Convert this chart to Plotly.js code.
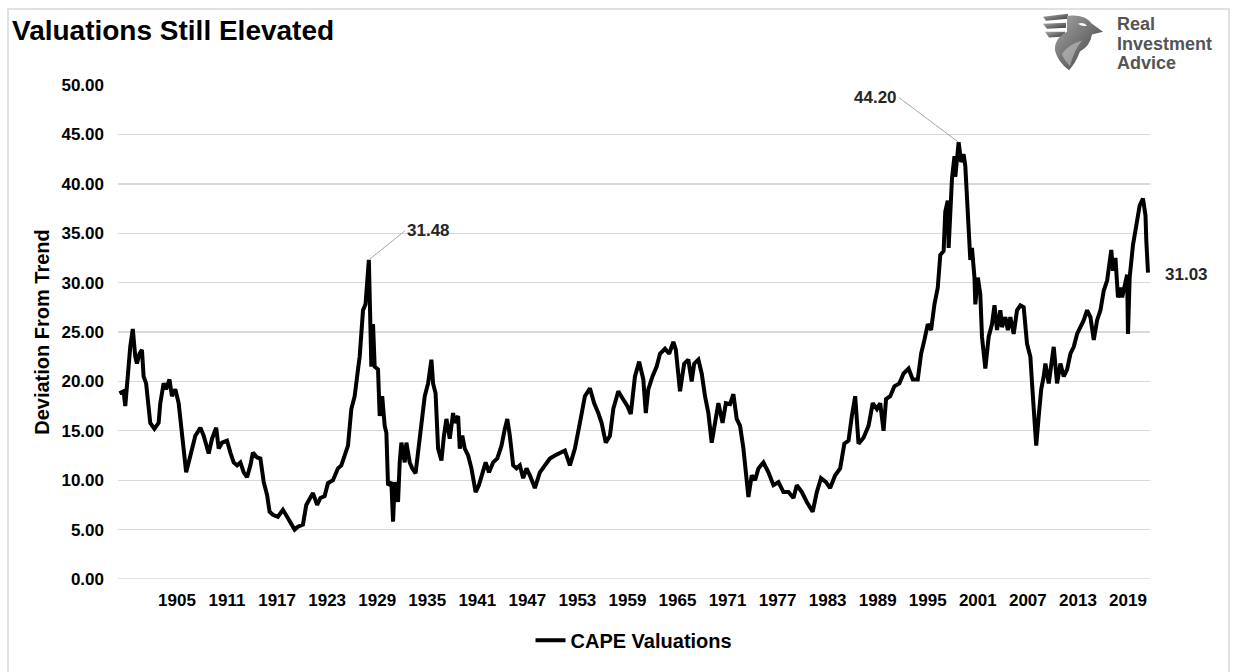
<!DOCTYPE html>
<html>
<head>
<meta charset="utf-8">
<script src="https://cdn.plot.ly/plotly-3.0.1.min.js"></script>
<style>
  html, body { margin: 0; padding: 0; background: #ffffff; }
  #chart { width: 1234px; height: 672px; }
</style>
</head>
<body>
<div id="chart"></div>
<script>
// ---- Data ----
const years = [
  1898.1,1898.6,1898.8,1899.0,1899.4,1899.7,1900.0,1900.2,1900.5,1900.8,
  1901.0,1901.3,1901.6,1901.8,1902.3,1902.8,1903.0,1903.4,1903.7,1904.1,
  1904.4,1904.8,1905.2,1905.6,1905.8,1906.1,1906.4,1906.8,1907.2,1907.8,
  1908.2,1908.8,1909.2,1909.7,1910.0,1910.4,1911.0,1911.4,1911.8,1912.2,
  1912.6,1913.0,1913.4,1913.8,1914.1,1914.6,1915.0,1915.4,1915.8,1916.1,
  1916.5,1917.1,1917.7,1918.2,1918.8,1919.1,1919.5,1920.1,1920.5,1920.9,
  1921.3,1921.8,1922.2,1922.7,1923.1,1923.7,1924.3,1924.7,1925.1,1925.5,
  1925.9,1926.3,1926.7,1926.9,1927.3,1927.6,1928.0,1928.3,1928.5,1928.7,
  1929.1,1929.3,1929.6,1929.9,1930.1,1930.3,1930.7,1930.9,1931.1,1931.5,
  1931.7,1931.9,1932.3,1932.5,1932.9,1933.2,1933.6,1933.9,1934.3,1934.7,
  1935.1,1935.5,1935.7,1936.0,1936.3,1936.7,1937.0,1937.3,1937.7,1938.1,
  1938.3,1938.7,1938.9,1939.2,1939.5,1939.9,1940.3,1940.8,1941.2,1941.6,
  1942.0,1942.4,1942.9,1943.4,1943.9,1944.3,1944.6,1944.9,1945.3,1945.7,
  1946.1,1946.5,1946.9,1947.3,1947.9,1948.5,1949.1,1949.7,1950.3,1950.9,
  1951.5,1952.1,1952.7,1953.3,1953.9,1954.5,1955.0,1955.5,1955.9,1956.4,
  1956.9,1957.3,1957.9,1958.4,1959.0,1959.4,1959.9,1960.4,1960.9,1961.2,
  1961.5,1962.0,1962.5,1962.9,1963.5,1964.0,1964.5,1964.8,1965.3,1965.8,
  1966.3,1966.7,1967.0,1967.5,1967.9,1968.3,1968.7,1969.1,1969.5,1969.9,
  1970.4,1970.8,1971.3,1971.7,1972.1,1972.5,1972.9,1973.2,1973.5,1973.9,
  1974.3,1974.7,1975.3,1975.9,1976.5,1977.1,1977.7,1978.3,1978.9,1979.3,
  1979.9,1980.5,1981.2,1981.7,1982.2,1982.8,1983.3,1983.9,1984.5,1985.0,
  1985.5,1985.9,1986.3,1986.7,1987.3,1987.9,1988.4,1988.9,1989.3,1989.7,
  1990.0,1990.5,1991.0,1991.6,1992.1,1992.7,1993.2,1993.8,1994.2,1994.6,
  1995.0,1995.4,1995.8,1996.2,1996.5,1996.9,1997.1,1997.4,1997.5,1997.9,
  1998.2,1998.3,1998.6,1998.7,1999.0,1999.3,1999.5,1999.9,2000.1,2000.3,
  2000.6,2000.7,2001.0,2001.3,2001.5,2001.9,2002.3,2002.7,2003.0,2003.3,
  2003.7,2003.9,2004.3,2004.6,2004.9,2005.3,2005.7,2006.1,2006.5,2006.9,
  2007.3,2007.5,2007.8,2008.0,2008.3,2008.6,2008.9,2009.1,2009.5,2009.8,
  2010.1,2010.5,2010.9,2011.3,2011.7,2012.1,2012.5,2012.9,2013.3,2013.7,
  2014.1,2014.5,2014.9,2015.3,2015.7,2016.1,2016.5,2016.7,2017.0,2017.2,
  2017.5,2017.8,2018.1,2018.3,2018.6,2018.9,2019.0,2019.2,2019.6,2020.1,
  2020.4,2020.8,2021.1,2021.2,2021.4
];
const capeValues = [
  18.8,19.0,17.5,19.8,23.5,25.3,22.5,21.8,22.8,23.2,
  20.5,19.8,17.8,15.8,15.2,15.8,17.8,19.8,19.2,20.2,
  18.5,19.2,17.8,14.5,13.2,10.8,11.8,13.2,14.5,15.3,
  14.5,12.7,14.2,15.3,13.2,13.8,14.0,12.8,11.8,11.5,
  11.8,10.8,10.3,11.5,12.8,12.3,12.2,9.8,8.5,6.8,
  6.5,6.3,7.0,6.3,5.5,5.0,5.3,5.5,7.5,8.2,
  8.7,7.5,8.2,8.4,9.7,10.0,11.2,11.5,12.5,13.5,
  17.2,18.5,21.2,22.5,27.2,27.8,32.3,21.5,25.8,21.5,
  21.2,16.5,18.5,15.5,14.8,9.5,9.8,5.8,9.8,7.8,
  11.8,13.8,11.8,13.8,11.8,11.2,10.7,12.8,16.2,18.5,
  19.8,22.2,19.8,18.8,13.2,12.0,14.5,16.2,14.2,16.8,
  15.8,16.5,13.2,14.5,13.2,12.5,11.2,8.8,9.5,10.8,
  11.8,10.8,11.8,12.2,13.5,15.2,16.2,14.5,11.5,11.2,
  11.5,10.2,11.2,10.5,9.2,10.8,11.5,12.2,12.5,12.7,
  13.0,11.5,13.2,15.8,18.5,19.3,17.8,16.8,15.8,13.8,
  14.5,17.2,19.0,18.3,17.5,16.7,20.5,22.0,20.2,16.8,
  19.2,20.5,21.5,22.8,23.3,22.8,24.0,23.2,19.0,21.8,
  22.2,20.0,21.8,22.2,20.8,18.5,16.8,13.8,15.8,17.8,
  15.8,17.8,17.7,18.7,16.2,15.5,13.2,10.8,8.3,10.5,
  10.0,11.2,11.8,10.8,9.5,9.8,8.8,8.8,8.2,9.5,
  8.8,7.8,6.8,8.8,10.2,9.8,9.2,10.5,11.2,13.7,
  14.0,16.5,18.5,13.7,14.3,15.5,17.8,17.2,17.8,15.0,
  18.2,18.5,19.5,19.8,20.8,21.3,20.2,20.2,22.8,24.2,
  25.8,25.2,27.8,29.5,32.8,33.2,37.2,38.3,33.5,40.5,
  42.8,40.7,43.8,44.2,42.2,43.0,41.8,36.5,32.3,33.5,
  30.5,27.8,30.5,28.8,24.5,21.3,24.5,25.8,27.7,25.2,
  27.2,25.5,26.5,25.2,26.5,24.8,27.2,27.7,27.5,23.8,
  22.5,19.8,15.5,13.5,16.5,19.2,20.5,21.8,19.8,21.8,
  23.5,19.8,21.8,20.5,21.2,22.8,23.5,24.8,25.5,26.2,
  27.2,26.5,24.2,26.2,27.2,29.2,30.2,31.2,33.3,31.2,
  32.5,28.5,29.5,28.5,29.5,30.8,24.8,30.5,33.8,36.5,
  37.8,38.5,36.8,34.2,31.0
];
const seriesName = "CAPE Valuations";
const labelTexts = ["31.48", "44.20", "31.03"];
const xTickVals = [1905,1911,1917,1923,1929,1935,1941,1947,1953,1959,1965,1971,1977,1983,1989,1995,2001,2007,2013,2019];
const yTickVals = [0,5,10,15,20,25,30,35,40,45,50];
const chartTitle = "Valuations Still Elevated";
const yAxisTitle = "Deviation From Trend";
const brandLines = ["Real", "Investment", "Advice"];

// ---- Helpers ----
function argMax(arr, pred) {
  let best = -1;
  for (let i = 0; i < arr.length; i++) {
    if (pred && !pred(i)) continue;
    if (best < 0 || arr[i] > arr[best]) best = i;
  }
  return best;
}
const peak1 = argMax(capeValues, i => years[i] < 1940);
const peak2 = argMax(capeValues);
const last = capeValues.length - 1;

const FONT = "'Liberation Sans', Arial, sans-serif";

const trace = {
  x: years,
  y: capeValues,
  type: "scatter",
  mode: "lines",
  name: seriesName,
  line: { color: "#000000", width: 4 },
  hoverinfo: "x+y"
};

const logoSvg =
  "<svg xmlns='http://www.w3.org/2000/svg' viewBox='0 0 64 62'>" +
  "<defs><linearGradient id='g' x1='0' y1='0' x2='1' y2='1'>" +
  "<stop offset='0' stop-color='#a8a8a8'/><stop offset='1' stop-color='#3a3a3a'/></linearGradient></defs>" +
  "<path d='M3 6 L28 3 L28 8 L6 10 Z' fill='url(#g)'/>" +
  "<path d='M3 13 L26 12 L26 17 L7 18 Z' fill='url(#g)'/>" +
  "<path d='M5 21 L25 21 L25 26 L9 27 Z' fill='url(#g)'/>" +
  "<path d='M27 5 Q45 3 52 13 L63 21 L52 24 Q50 36 40 41 Q36 52 29 60 Q18 52 15 40 Q14 28 27 21 Z' fill='url(#g)'/>" +
  "<path d='M38 13 Q44 11 47 15 Q42 16 38 13 Z' fill='#ffffff'/>" +
  "<path d='M22 44 Q28 34 42 30 Q34 40 30 56 Q24 50 22 44 Z' fill='#ffffff' opacity='0.35'/>" +
  "</svg>";

// plot area: left 118, right 1150, top 85, bottom 585 (px)
const px2paperX = px => (px - 118) / 1032;
const px2paperY = py => (585 - py) / 500;

const brandAnn = (txt, py) => ({
  x: px2paperX(1116), y: px2paperY(py), xref: "paper", yref: "paper",
  text: "<b>" + txt + "</b>", showarrow: false,
  xanchor: "left", yanchor: "middle", borderpad: 0,
  font: { family: FONT, size: 18, color: "#555555" }
});

const layout = {
  width: 1234,
  height: 672,
  margin: { l: 118, r: 84, t: 85, b: 87 },
  paper_bgcolor: "#ffffff",
  plot_bgcolor: "#ffffff",
  font: { family: FONT, color: "#000000" },
  showlegend: true,
  title: {
    text: "<b>" + chartTitle + "</b>",
    font: { family: FONT, size: 28, color: "#000000" },
    x: 12 / 1234, xref: "container", xanchor: "left",
    y: 1 - 30 / 672, yref: "container", yanchor: "middle"
  },
  xaxis: {
    range: [1897.93, 2021.64],
    tickmode: "array",
    tickvals: xTickVals,
    ticktext: xTickVals.map(String),
    showgrid: false,
    zeroline: false,
    showline: false,
    ticks: "",
    ticklabelstandoff: 9,
    tickfont: { family: FONT, size: 17, color: "#000000", weight: "bold" },
    fixedrange: true
  },
  yaxis: {
    range: [0, 50],
    tickmode: "array",
    tickvals: yTickVals,
    ticktext: yTickVals.map(v => v.toFixed(2)),
    showgrid: true,
    gridcolor: "#d9d9d9",
    gridwidth: 1.4,
    zeroline: false,
    showline: false,
    ticks: "",
    ticklabelstandoff: 13,
    tickfont: { family: FONT, size: 17, color: "#000000", weight: "bold" },
    title: {
      text: "<b>" + yAxisTitle + "</b>",
      font: { family: FONT, size: 20, color: "#000000" },
      standoff: 6
    },
    fixedrange: true
  },
  legend: {
    orientation: "h",
    x: 0.5, xanchor: "center",
    y: px2paperY(647), yanchor: "middle",
    font: { family: FONT, size: 20, color: "#000000", weight: "bold" },
    bgcolor: "rgba(0,0,0,0)",
    itemwidth: 30
  },
  annotations: [
    {
      x: years[peak1], y: capeValues[peak1], xref: "x", yref: "y",
      text: "<b>" + labelTexts[0] + "</b>",
      showarrow: true, arrowhead: 0, arrowwidth: 1, arrowcolor: "#a6a6a6",
      ax: 36, ay: -29, xanchor: "left", yanchor: "middle",
      font: { family: FONT, size: 17, color: "#262626" }
    },
    {
      x: years[peak2], y: capeValues[peak2], xref: "x", yref: "y",
      text: "<b>" + labelTexts[1] + "</b>",
      showarrow: true, arrowhead: 0, arrowwidth: 1, arrowcolor: "#a6a6a6",
      ax: -60, ay: -45, xanchor: "right", yanchor: "middle",
      font: { family: FONT, size: 17, color: "#262626" }
    },
    {
      x: years[last], y: capeValues[last], xref: "x", yref: "y",
      text: "<b>" + labelTexts[2] + "</b>",
      showarrow: false, xanchor: "left", yanchor: "middle",
      xshift: 15, yshift: -2,
      font: { family: FONT, size: 17, color: "#262626" }
    },
    brandAnn(brandLines[0], 23),
    brandAnn(brandLines[1], 43),
    brandAnn(brandLines[2], 63)
  ],
  shapes: [
    {
      type: "rect", xref: "paper", yref: "paper", layer: "below",
      x0: px2paperX(8), x1: px2paperX(1229), y0: px2paperY(690), y1: px2paperY(8),
      line: { color: "#d9d9d9", width: 1.5 }, fillcolor: "rgba(0,0,0,0)"
    },
    {
      type: "line", xref: "paper", yref: "y", layer: "below",
      x0: 0, x1: 1, y0: 0, y1: 0,
      line: { color: "#d9d9d9", width: 1.4 }
    }
  ],
  images: [
    {
      source: "data:image/svg+xml;charset=utf-8," + encodeURIComponent(logoSvg),
      xref: "paper", yref: "paper",
      x: px2paperX(1040), y: px2paperY(10),
      sizex: 64 / 1032, sizey: 62 / 500,
      xanchor: "left", yanchor: "top",
      sizing: "stretch", layer: "above"
    }
  ]
};

Plotly.newPlot("chart", [trace], layout, { displayModeBar: false, staticPlot: true });
</script>
</body>
</html>
